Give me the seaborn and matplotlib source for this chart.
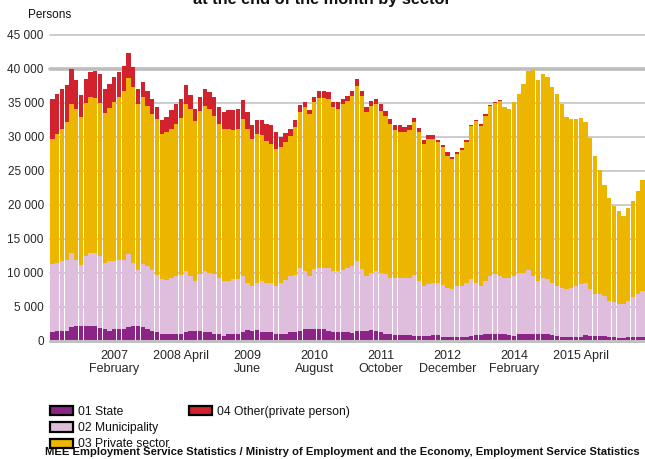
"""
Vacancies at the end of the month by sector, monthly stacked bars 2006-2016.
"""

import numpy as np
import pandas as pd
import matplotlib
matplotlib.use('Agg')
import matplotlib.pyplot as plt
from matplotlib.patches import Patch
import seaborn as sns

# Months shown (Jan 2006 .. May 2016)
months = list(pd.date_range('2006-01-01', periods=125, freq='MS').strftime('%Y-%m'))

# Persons per sector
state = [1280, 1420, 1420, 1420, 2010, 2160, 2160, 2160, 2160, 2160,
         1860, 1720, 1420, 1720, 1720, 1720, 2010, 2160, 2160, 2010,
         1720, 1420, 1280, 980, 980, 980, 980, 980, 1280, 1420,
         1420, 1420, 1280, 1280, 980, 980, 690, 980, 980, 980,
         1280, 1570, 1420, 1570, 1280, 1280, 1280, 980, 980, 980,
         1280, 1280, 1420, 1720, 1720, 1720, 1720, 1720, 1420, 1280,
         1280, 1280, 1280, 1130, 1420, 1420, 1420, 1570, 1420, 1280,
         980, 980, 830, 830, 830, 830, 690, 690, 690, 690,
         830, 830, 540, 540, 540, 540, 540, 540, 690, 830,
         830, 980, 980, 980, 980, 980, 830, 690, 980, 980,
         980, 980, 980, 980, 980, 830, 690, 540, 540, 540,
         540, 540, 830, 690, 690, 690, 690, 540, 540, 390,
         390, 540, 540, 540, 540]

municipality = [10010, 10010, 10300, 10450, 10890, 9720, 8980, 10300, 10750, 10750,
                10600, 9720, 10300, 10010, 10160, 10160, 10750, 9270, 8240, 9270,
                9270, 8980, 8390, 8100, 7950, 8240, 8540, 8690, 8980, 8100,
                7360, 8390, 8980, 8690, 8830, 8240, 8100, 7800, 8100, 8100,
                8240, 6920, 6620, 6920, 7510, 7210, 7210, 7070, 7510, 7950,
                8240, 8390, 9270, 8540, 7800, 8830, 8980, 8980, 9270, 8980,
                8980, 9130, 9420, 9860, 10300, 9130, 8100, 8390, 8830, 8690,
                8830, 8240, 8390, 8390, 8390, 8390, 8980, 8100, 7360, 7650,
                7650, 7650, 7650, 7210, 7070, 7510, 7510, 7950, 8390, 7650,
                7210, 7800, 8540, 8830, 8540, 8240, 8390, 8830, 8980, 8980,
                9420, 8540, 7800, 8240, 8100, 7650, 7360, 7210, 7070, 7210,
                7510, 7800, 7650, 6920, 6180, 6180, 5890, 5300, 5150, 5010,
                5010, 5300, 5890, 6330, 6770]

private_sector = [18400, 18990, 19430, 20310, 21930, 22230, 21790, 22520, 22960, 22820,
                  22520, 22080, 22520, 23410, 24000, 24880, 25910, 25910, 24440, 24580,
                  23550, 22960, 22960, 21350, 21790, 21930, 22380, 23110, 24580, 24580,
                  23550, 24000, 24290, 24140, 23260, 22670, 22380, 22380, 21930, 22080,
                  23110, 22670, 21640, 21930, 21490, 20900, 20460, 20170, 20020, 20310,
                  20610, 21790, 22960, 24140, 23850, 24580, 25030, 25030, 24880, 24140,
                  23850, 24440, 24580, 25030, 25760, 25470, 24140, 24580, 24580, 23850,
                  23260, 22670, 21790, 21490, 21490, 21790, 22520, 21930, 20900, 21350,
                  21200, 20760, 20310, 19430, 19140, 19430, 20020, 20760, 22520, 23850,
                  23550, 24290, 25030, 25170, 25760, 25170, 24880, 25620, 26350, 27820,
                  29290, 30330, 29590, 30030, 29740, 28850, 28260, 27090, 25320, 24880,
                  24580, 24440, 23700, 22230, 20310, 18250, 16340, 15160, 14180, 13690,
                  12950, 13690, 14130, 15160, 16340]

other = [5890, 5890, 5890, 5450, 5150, 4270, 3240, 3530, 3680, 3970,
         4270, 3530, 3530, 3680, 3680, 3680, 3680, 2940, 2210, 2210,
         2210, 2210, 1770, 2060, 2210, 2800, 2940, 2800, 2800, 2060,
         1770, 2060, 2500, 2500, 2800, 2500, 2500, 2800, 2940, 2940,
         2800, 2500, 2060, 2060, 2210, 2500, 2800, 2500, 1470, 1320,
         1030, 1030, 1030, 740, 590, 740, 1030, 1030, 1030, 740,
         1030, 740, 740, 740, 1030, 740, 740, 740, 740, 1030,
         740, 740, 740, 1030, 740, 740, 590, 590, 590, 590,
         590, 290, 290, 590, 290, 290, 290, 290, 150, 150,
         290, 290, 150, 150, 150, 0, 0, 0, 0, 0,
         0, 0, 0, 0, 0, 0, 0, 0, 0, 0,
         0, 0, 0, 0, 0, 0, 0, 0, 0, 0,
         0, 0, 0, 0, 0]

tick_months = ['2007-02', '2008-04', '2009-06', '2010-08',
               '2011-10', '2012-12', '2014-02', '2015-04']
tick_labels = ['2007\nFebruary', '2008 April', '2009\nJune', '2010\nAugust',
               '2011\nOctober', '2012\nDecember', '2014\nFebruary', '2015 April']
y_ticks = [0, 5000, 10000, 15000, 20000, 25000, 30000, 35000, 40000, 45000]

sectors = ['01 State', '02 Municipality', '03 Private sector', '04 Other(private person)']
colors = ['#8c2387', '#dfbddc', '#ebb500', '#d2222d']

df = pd.DataFrame({'month': months, 'state': state, 'municipality': municipality,
                   'private': private_sector, 'other': other})
# cumulative levels for overlaid bars
df['lvl1'] = df['state']
df['lvl2'] = df['lvl1'] + df['municipality']
df['lvl3'] = df['lvl2'] + df['private']
df['lvl4'] = df['lvl3'] + df['other']

sns.set_theme(style='white')
plt.rcParams['font.family'] = ['Liberation Sans', 'DejaVu Sans']
plt.rcParams['text.color'] = '#111111'

W, H = 645, 459
fig = plt.figure(figsize=(W / 100, H / 100), dpi=100)
ax = fig.add_axes([50 / W, 1 - 340.7 / H, 595 / W, 306 / H])

# gridlines behind bars
for yv in y_ticks[1:]:
    lw = 2.6 if yv == 40000 else 1.3
    col = '#bdbdbd' if yv == 40000 else '#c8c8c8'
    ax.axhline(yv, color=col, lw=lw, zorder=0.5, clip_on=False)

# draw top level first, lower levels over it
for col, c in zip(['lvl4', 'lvl3', 'lvl2', 'lvl1'], colors[::-1]):
    sns.barplot(data=df, x='month', y=col, order=months, color=c, saturation=1,
                width=0.9, linewidth=0, errorbar=None, ax=ax, zorder=2)

ax.axhline(0, color='#c0c0c0', lw=2.2, zorder=3, clip_on=False)

ax.set_xlim(-0.5, len(months) - 0.5)
ax.set_ylim(0, 45000)
ax.set_yticks(y_ticks)
ax.set_yticklabels([f'{v:,}'.replace(',', ' ') for v in y_ticks], fontsize=8.5)
ax.set_xticks([months.index(m) for m in tick_months])
ax.set_xticklabels(tick_labels, fontsize=9, linespacing=1.15)
ax.tick_params(axis='both', length=0)
ax.tick_params(axis='y', pad=4.5)
ax.tick_params(axis='x', pad=6.5)
ax.set_xlabel('')
ax.set_ylabel('')
for s in ax.spines.values():
    s.set_visible(False)

fig.text(28 / W, 1 - 15 / H, 'Persons', fontsize=8.5, va='center', ha='left')

# title sits mostly above the figure edge, as in the source
fig.text(322 / W, 1 - 4 / H, 'at the end of the month by sector', fontsize=11.8,
         fontweight='bold', ha='center', va='baseline')

handles = [Patch(facecolor=c, edgecolor='black', linewidth=1.6) for c in colors]
blank = Patch(visible=False)
fig.legend(handles[:3] + [handles[3], blank, blank], sectors[:3] + [sectors[3], '', ''],
           ncol=2, loc='upper left', bbox_to_anchor=(50 / W, 1 - 406 / H),
           frameon=False, fontsize=8.7, handlelength=1.9, handleheight=0.8,
           handletextpad=0.4, columnspacing=1.65, labelspacing=0.35,
           borderpad=0, borderaxespad=0)

fig.text(45 / W, 1 - 452 / H,
         'MEE Employment Service Statistics / Ministry of Employment and the Economy, '
         'Employment Service Statistics',
         fontsize=8.12, fontweight='bold', va='center', ha='left',
         bbox=dict(facecolor='white', edgecolor='none', pad=0.5))

fig.savefig('out.png', dpi=100)
